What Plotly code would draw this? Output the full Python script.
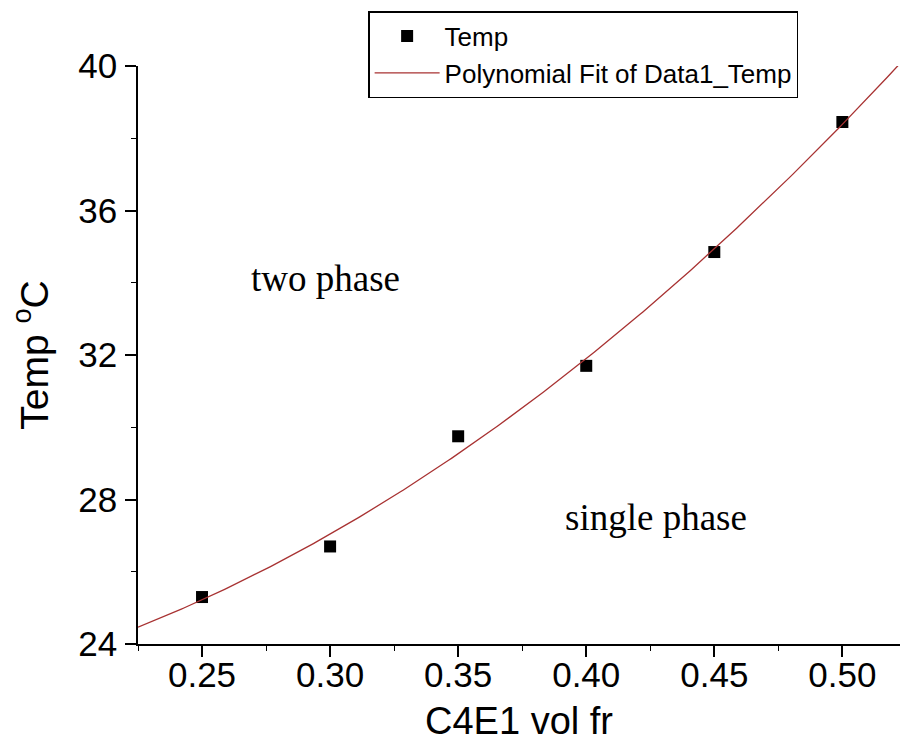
import numpy as np
import plotly.graph_objects as go

# Data
vol_fr = [0.25, 0.30, 0.35, 0.40, 0.45, 0.50]
temp_c = [25.3, 26.7, 29.75, 31.7, 34.85, 38.45]

x_tick_vals = [0.25, 0.30, 0.35, 0.40, 0.45, 0.50]
x_tick_text = ["0.25", "0.30", "0.35", "0.40", "0.45", "0.50"]
x_minor_vals = [0.225, 0.275, 0.325, 0.375, 0.425, 0.475]
y_tick_vals = [24, 28, 32, 36, 40]
y_tick_text = ["24", "28", "32", "36", "40"]
y_minor_vals = [26, 30, 34, 38]

x_range = [0.225, 0.5225]
y_range = [24, 40]

# Second-order polynomial fit of the data (as in the original "Polynomial Fit")
coef = np.polyfit(vol_fr, temp_c, 2)
fit_x = np.linspace(x_range[0], x_range[1], 300)
fit_y = np.polyval(coef, fit_x)

fig = go.Figure()
fig.add_trace(go.Scatter(
    x=vol_fr, y=temp_c, mode="markers", name="Temp",
    marker=dict(symbol="square", size=12, color="#000000"),
))
fig.add_trace(go.Scatter(
    x=fit_x, y=fit_y, mode="lines", name="Polynomial Fit of Data1_Temp",
    line=dict(color="#a83232", width=1.3),
))

fig.add_annotation(x=0.2983, y=34.12, text="two phase", showarrow=False,
                   font=dict(family="Liberation Serif", size=37, color="black"))
fig.add_annotation(x=0.4271, y=27.5, text="single phase", showarrow=False,
                   font=dict(family="Liberation Serif", size=37, color="black"))

tick_font = dict(family="Liberation Sans", size=35, color="black")

fig.update_layout(
    width=900, height=749,
    margin=dict(l=138, r=0, t=66, b=105),
    paper_bgcolor="white", plot_bgcolor="white",
    font=dict(family="Liberation Sans", color="black"),
    # x axis: line, major and minor ticks (labels are on the overlay axis below)
    xaxis=dict(
        range=x_range, tickmode="array", tickvals=x_tick_vals, showticklabels=False,
        showline=True, linecolor="black", linewidth=1.5, mirror=False,
        showgrid=False, zeroline=False,
        ticks="outside", ticklen=11, tickwidth=1.5, tickcolor="black",
        minor=dict(ticks="outside", ticklen=5, tickwidth=1.2, tickcolor="black",
                   tickmode="array", tickvals=x_minor_vals),
    ),
    # overlay x axis carrying the tick labels and the title
    xaxis2=dict(
        range=x_range, overlaying="x", anchor="y", side="bottom",
        tickmode="array", tickvals=x_tick_vals, ticktext=x_tick_text,
        ticks="", showline=False, showgrid=False, zeroline=False,
        tickfont=tick_font, ticklabelstandoff=7,
        title=dict(text="C4E1 vol fr", font=dict(size=38), standoff=14),
    ),
    yaxis=dict(
        range=y_range, tickmode="array", tickvals=y_tick_vals, ticktext=y_tick_text,
        showline=True, linecolor="black", linewidth=1.5, mirror=False,
        showgrid=False, zeroline=False,
        ticks="outside", ticklen=11, tickwidth=1.5, tickcolor="black",
        tickfont=tick_font, ticklabelstandoff=1,
        minor=dict(ticks="outside", ticklen=5, tickwidth=1.2, tickcolor="black",
                   tickmode="array", tickvals=y_minor_vals),
        title=dict(text="Temp <sup>o</sup>C", font=dict(size=39), standoff=18),
    ),
    legend=dict(
        x=0.302, y=1.095, xanchor="left", yanchor="top",
        bordercolor="black", borderwidth=1.5, bgcolor="white",
        font=dict(family="Liberation Sans", size=26, color="black"),
        itemwidth=65, tracegroupgap=0,
    ),
)

# invisible trace to activate the overlay axis
fig.add_trace(go.Scatter(x=[x_range[0]], y=[y_range[0]], xaxis="x2", mode="markers",
                         marker=dict(opacity=0), showlegend=False, hoverinfo="skip"))

fig.write_html("out.html")
